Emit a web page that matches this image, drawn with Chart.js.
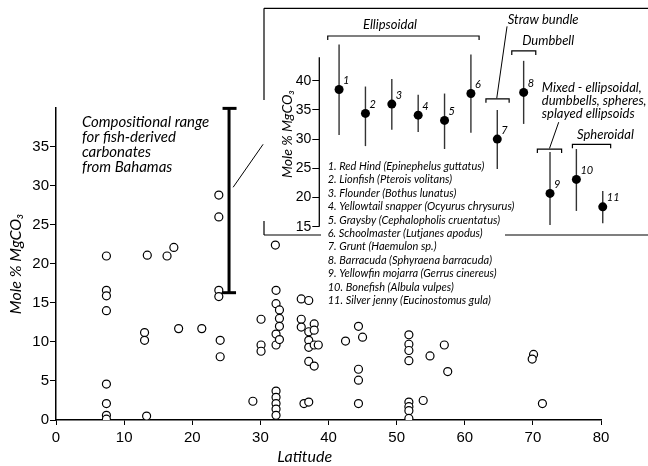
<!DOCTYPE html>
<html>
<head>
<meta charset="utf-8">
<script src="https://cdn.jsdelivr.net/npm/chart.js@4.4.1/dist/chart.umd.min.js"></script>
<style>
  html, body { margin: 0; padding: 0; background: #fff; }
  #wrap { position: relative; width: 648px; height: 466px; }
  #wrap canvas { position: absolute; left: 0; top: 0; }
</style>
</head>
<body>
<div id="wrap">
  <canvas id="mainChart" width="648" height="466"></canvas>
  <canvas id="insetChart" width="648" height="466"></canvas>
</div>
<script>
// ---- main scatter: latitude vs Mole % MgCO3 ----
var latitude = [
  7.4, 7.4, 7.4, 7.4, 7.4, 7.4, 7.4, 7.4,
  13.0, 13.0, 13.3, 13.4, 16.3, 17.3, 18.0, 21.4,
  23.9, 23.9, 23.9, 23.9, 24.1, 24.1,
  28.9, 30.1, 30.1, 30.1, 32.2,
  32.3, 32.3, 32.3, 32.3, 32.3, 32.3, 32.3, 32.3, 32.3,
  32.8, 32.8, 32.8, 32.8,
  36.0, 36.0, 36.0,
  37.1, 37.1, 37.1, 37.1, 37.1,
  37.9, 37.9, 37.9, 37.9, 38.5, 36.4, 37.1,
  42.5, 44.4, 44.4, 44.4, 44.4, 45.0,
  51.8, 51.8, 51.8, 51.8, 51.8, 51.8, 51.8, 51.8,
  53.9, 54.9, 57.0, 57.5, 70.1, 69.9, 71.4
];
var mgco3 = [
  21.0, 16.6, 15.9, 14.0, 4.6, 2.1, 0.6, 0.1,
  11.2, 10.2, 0.5, 21.1, 21.0, 22.1, 11.7, 11.7,
  28.8, 26.0, 16.6, 15.8, 10.2, 8.1,
  2.4, 12.9, 9.6, 8.8, 22.4,
  16.6, 14.9, 11.0, 9.6, 3.7, 2.9, 2.1, 1.4, 0.6,
  14.1, 13.0, 12.0, 10.3,
  15.5, 12.9, 11.9,
  15.3, 11.3, 10.2, 9.3, 7.5,
  12.3, 11.5, 9.6, 6.9, 9.6, 2.1, 2.3,
  10.1, 12.0, 6.5, 5.1, 2.1, 10.6,
  10.9, 9.7, 8.9, 7.6, 2.3, 1.7, 1.2, 0.2,
  2.5, 8.2, 9.6, 6.2, 8.4, 7.8, 2.1
];
var mainYTicks = [0, 5, 10, 15, 20, 25, 30, 35];

// compositional range bar for fish-derived carbonates (Bahamas)
var rangeLat = 25.4;
var rangeMgco3 = [16.3, 39.9];
var rangeNote = ['Compositional range', 'for fish-derived', 'carbonates', 'from Bahamas'];

// ---- inset: per-species mean and range ----
var speciesNo  = [1, 2, 3, 4, 5, 6, 7, 8, 9, 10, 11];
var insetMean  = [38.5, 34.4, 36.0, 34.1, 33.2, 37.8, 30.0, 38.0, 20.7, 23.1, 18.4];
var insetHigh  = [46.2, 39.0, 40.3, 37.6, 37.8, 44.5, 35.0, 43.4, 27.8, 28.3, 21.1];
var insetLow   = [30.7, 28.8, 31.6, 31.2, 28.3, 31.1, 24.9, 32.6, 15.3, 17.7, 15.6];
var insetTicks = [15, 20, 25, 30, 35, 40];
var speciesNames = [
  '1. Red Hind (Epinephelus guttatus)',
  '2. Lionfish (Pterois volitans)',
  '3. Flounder (Bothus lunatus)',
  '4. Yellowtail snapper (Ocyurus chrysurus)',
  '5. Graysby (Cephalopholis cruentatus)',
  '6. Schoolmaster (Lutjanes apodus)',
  '7. Grunt (Haemulon sp.)',
  '8. Barracuda (Sphyraena barracuda)',
  '9. Yellowfin mojarra (Gerrus cinereus)',
  '10. Bonefish (Albula vulpes)',
  '11. Silver jenny (Eucinostomus gula)'
];
var crystalGroups = ['Ellipsoidal', 'Straw bundle', 'Dumbbell', 'Mixed', 'Spheroidal'];

var tickFont = 'Liberation Sans';
var noteFont = 'Lato';

function txt(ctx, s, x, y, size, o) {
  o = o || {};
  ctx.save();
  ctx.font = (o.upright ? '' : 'italic ') + size + 'px "' + (o.family || noteFont) + '"';
  ctx.fillStyle = '#000';
  ctx.textAlign = o.align || 'left';
  ctx.textBaseline = 'middle';
  ctx.translate(x, y);
  if (o.rotate) ctx.rotate(o.rotate);
  ctx.scale(o.sx || 1, 1);
  ctx.fillText(s, 0, 0);
  ctx.restore();
}

function seg(ctx, x1, y1, x2, y2, w, col) {
  ctx.save();
  ctx.strokeStyle = col || '#000';
  ctx.lineWidth = w || 1.2;
  ctx.beginPath();
  ctx.moveTo(x1, y1);
  ctx.lineTo(x2, y2);
  ctx.stroke();
  ctx.restore();
}

var mainDecor = {
  id: 'mainDecor',
  afterDraw: function (chart) {
    var ctx = chart.ctx, x = chart.scales.x, y = chart.scales.y, a = chart.chartArea;
    // range bar with caps
    var bx = x.getPixelForValue(rangeLat);
    var yTop = y.getPixelForValue(rangeMgco3[1]), yBot = y.getPixelForValue(rangeMgco3[0]);
    seg(ctx, bx, yTop, bx, yBot, 3);
    seg(ctx, bx - 6.5, yTop, bx + 7.5, yTop, 3);
    seg(ctx, bx - 7, yBot, bx + 7, yBot, 3);
    // leader towards the inset
    seg(ctx, x.getPixelForValue(26.0), y.getPixelForValue(29.8), x.getPixelForValue(30.4), y.getPixelForValue(35.3), 1);
    // note
    var nx = x.getPixelForValue(3.8);
    rangeNote.forEach(function (l, i) {
      txt(ctx, l, nx, y.getPixelForValue(38.1) + i * 14.9, 15);
    });
    // axis titles
    txt(ctx, 'Latitude', x.getPixelForValue(36.5), 457, 16, { align: 'center' });
    txt(ctx, 'Mole % MgCO\u2083', 16, (a.top + a.bottom) / 2, 16, { align: 'center', rotate: -Math.PI / 2 });
  }
};

var mainChart = new Chart(document.getElementById('mainChart'), {
  type: 'scatter',
  data: {
    datasets: [{
      data: latitude.map(function (v, i) { return { x: v, y: mgco3[i] }; }),
      pointRadius: 4,
      pointBorderWidth: 1.2,
      pointBorderColor: '#000',
      pointBackgroundColor: '#fff'
    }]
  },
  options: {
    responsive: false,
    animation: false,
    layout: { padding: { left: 0, top: 107.6, right: 47, bottom: 0 } },
    plugins: { legend: { display: false }, tooltip: { enabled: false } },
    scales: {
      x: {
        type: 'linear', min: 0, max: 80,
        afterFit: function (s) { s.height = 46; },
        ticks: { stepSize: 10, color: '#000', padding: 4, font: { family: tickFont, size: 15 } },
        grid: { drawOnChartArea: false, tickLength: 5, color: '#000', lineWidth: 1 },
        border: { color: '#000', width: 1.5 }
      },
      y: {
        type: 'linear', min: 0, max: 40,
        afterFit: function (s) { s.width = 56; },
        afterBuildTicks: function (s) { s.ticks = mainYTicks.map(function (v) { return { value: v }; }); },
        ticks: { color: '#000', padding: 1, font: { family: tickFont, size: 15 } },
        grid: { drawOnChartArea: false, tickLength: 6, color: '#000', lineWidth: 1 },
        border: { color: '#000', width: 1.5 }
      }
    }
  },
  plugins: [mainDecor]
});

// bracket over a group of species, in inset data units
function bracket(ctx, x, y, from, to, at) {
  var x1 = x.getPixelForValue(from), x2 = x.getPixelForValue(to), py = y.getPixelForValue(at);
  ctx.save();
  ctx.strokeStyle = '#000';
  ctx.lineWidth = 1.2;
  ctx.beginPath();
  ctx.moveTo(x1, py + 4);
  ctx.lineTo(x1, py);
  ctx.lineTo(x2, py);
  ctx.lineTo(x2, py + 4);
  ctx.stroke();
  ctx.restore();
}

var insetDecor = {
  id: 'insetDecor',
  beforeDatasetsDraw: function (chart) {
    var ctx = chart.ctx, x = chart.scales.x, y = chart.scales.y, a = chart.chartArea;
    // frame round the inset
    seg(ctx, 264, 8.3, 648, 8.3, 1.2);
    seg(ctx, 264, 8.3, 264, 100, 1.2);
    seg(ctx, 264, 221, 264, 235, 1.2);
    seg(ctx, 264, 235, 321, 235, 1.2);
    seg(ctx, 505, 235, 648, 235, 1.2);
    // y axis line
    seg(ctx, a.left, y.getPixelForValue(15), a.left, y.getPixelForValue(44), 1.3);
    // ranges
    speciesNo.forEach(function (n, i) {
      var px = x.getPixelForValue(n);
      seg(ctx, px, y.getPixelForValue(insetHigh[i]), px, y.getPixelForValue(insetLow[i]), 1.4, '#333');
    });
  },
  afterDatasetsDraw: function (chart) {
    var ctx = chart.ctx, x = chart.scales.x, y = chart.scales.y, a = chart.chartArea;
    speciesNo.forEach(function (n, i) {
      txt(ctx, String(n), x.getPixelForValue(n) + 4, y.getPixelForValue(insetMean[i]) - 9, 11);
    });
    // crystal-form groups
    bracket(ctx, x, y, 0.57, 6.31, 47.65);
    txt(ctx, crystalGroups[0], x.getPixelForValue(2.93), y.getPixelForValue(49.5), 13, { align: 'center' });
    bracket(ctx, x, y, 6.57, 7.45, 36.9);
    seg(ctx, x.getPixelForValue(6.98), y.getPixelForValue(37.0), x.getPixelForValue(7.37), y.getPixelForValue(49.3), 1);
    txt(ctx, crystalGroups[1], x.getPixelForValue(8.74), y.getPixelForValue(50.4), 13, { align: 'center' });
    bracket(ctx, x, y, 7.55, 8.46, 45.1);
    txt(ctx, crystalGroups[2], x.getPixelForValue(8.93), y.getPixelForValue(46.8), 13, { align: 'center' });
    bracket(ctx, x, y, 8.52, 9.44, 28.3);
    seg(ctx, x.getPixelForValue(8.98), y.getPixelForValue(28.4), x.getPixelForValue(9.33), y.getPixelForValue(32.9), 1);
    ['Mixed - ellipsoidal,', 'dumbbells, spheres,', 'splayed ellipsoids'].forEach(function (l, i) {
      txt(ctx, l, x.getPixelForValue(8.69), y.getPixelForValue(38.7) + i * 13, 13);
    });
    bracket(ctx, x, y, 9.85, 11.3, 29.1);
    txt(ctx, crystalGroups[4], x.getPixelForValue(11.1), y.getPixelForValue(30.7), 13, { align: 'center' });
    // species key
    var kx = x.getPixelForValue(0.57), ky = y.getPixelForValue(25.3);
    speciesNames.forEach(function (l, i) {
      txt(ctx, l, kx, ky + i * 13.4, 11);
    });
    txt(ctx, 'Mole % MgCO\u2083', 287, 134, 14, { align: 'center', rotate: -Math.PI / 2 });
  }
};

var insetChart = new Chart(document.getElementById('insetChart'), {
  type: 'scatter',
  data: {
    datasets: [{
      data: speciesNo.map(function (n, i) { return { x: n, y: insetMean[i] }; }),
      pointRadius: 4.5,
      pointBorderWidth: 0,
      pointBackgroundColor: '#000'
    }]
  },
  options: {
    responsive: false,
    animation: false,
    layout: { padding: { left: 0, top: 22.3, right: 5.7, bottom: 239.3 } },
    plugins: { legend: { display: false }, tooltip: { enabled: false } },
    scales: {
      x: { type: 'linear', min: 0.25, max: 12.5, display: false },
      y: {
        type: 'linear', min: 15, max: 50,
        afterFit: function (s) { s.width = 319.3; },
        afterBuildTicks: function (s) { s.ticks = insetTicks.map(function (v) { return { value: v }; }); },
        ticks: { color: '#000', padding: 1, font: { family: tickFont, size: 14 } },
        grid: { drawOnChartArea: false, tickLength: 7, color: '#000', lineWidth: 1 },
        border: { display: false }
      }
    }
  },
  plugins: [insetDecor]
});
</script>
</body>
</html>
